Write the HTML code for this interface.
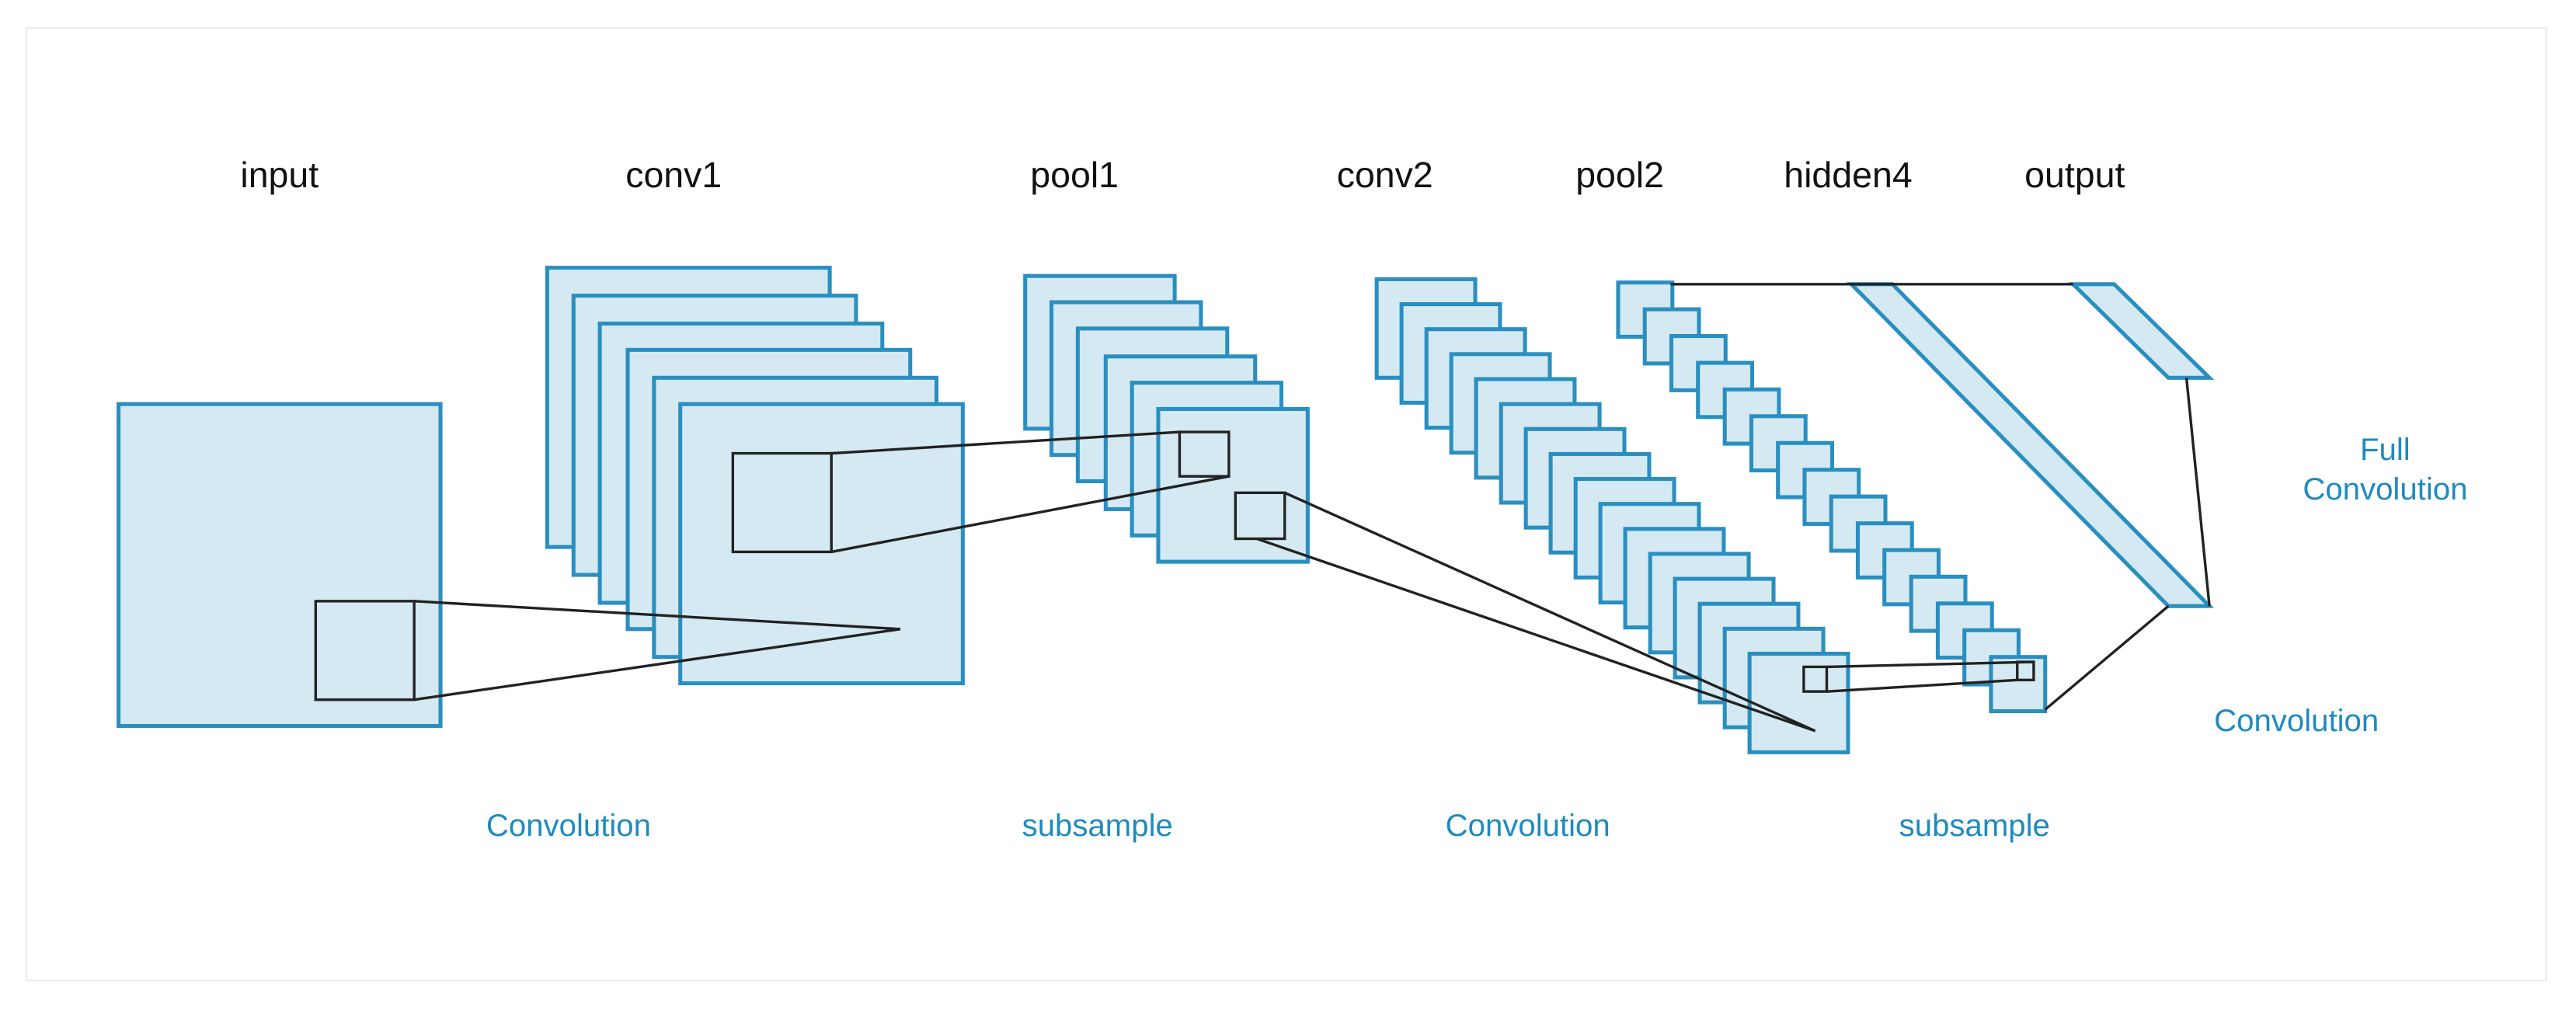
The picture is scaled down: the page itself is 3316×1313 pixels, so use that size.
<!DOCTYPE html>
<html><head><meta charset="utf-8"><style>html,body{margin:0;padding:0;background:#fff}svg{display:block}</style></head>
<body>
<svg width="3316" height="1313" viewBox="0 0 1568 621" xmlns="http://www.w3.org/2000/svg" font-family="'Liberation Sans', sans-serif">
<rect x="0" y="0" width="1568" height="621" fill="#fff"/>
<rect x="16" y="17" width="1534" height="580" fill="#fff" stroke="#ececec" stroke-width="1"/>
<g font-size="22" fill="#111" text-anchor="middle">
<text x="170" y="114">input</text>
<text x="410" y="114">conv1</text>
<text x="654" y="114">pool1</text>
<text x="843" y="114">conv2</text>
<text x="986" y="114">pool2</text>
<text x="1125" y="114">hidden4</text>
<text x="1263" y="114">output</text>
</g>
<g font-size="19" fill="#1f8ac0" text-anchor="middle">
<text x="346" y="509">Convolution</text>
<text x="668" y="509">subsample</text>
<text x="930" y="509">Convolution</text>
<text x="1202" y="509">subsample</text>
<text x="1452" y="280">Full</text>
<text x="1452" y="304">Convolution</text>
<text x="1398" y="445">Convolution</text>
</g>
<g fill="#d4e9f2" stroke="#2a8fc0" stroke-width="2.4">
<rect x="72" y="246" width="196" height="196"/>
<rect x="333" y="163" width="172" height="170"/>
<rect x="349" y="180" width="172" height="170"/>
<rect x="365" y="197" width="172" height="170"/>
<rect x="382" y="213" width="172" height="170"/>
<rect x="398" y="230" width="172" height="170"/>
<rect x="414" y="246" width="172" height="170"/>
<rect x="624" y="168" width="91" height="93"/>
<rect x="640" y="184" width="91" height="93"/>
<rect x="656" y="200" width="91" height="93"/>
<rect x="673" y="217" width="91" height="93"/>
<rect x="689" y="233" width="91" height="93"/>
<rect x="705" y="249" width="91" height="93"/>
</g>
<g fill="#d4e9f2" stroke="#2a8fc0" stroke-width="2.4">
<rect x="838" y="170" width="60" height="60"/>
<rect x="853.1" y="185.2" width="60" height="60"/>
<rect x="868.3" y="200.4" width="60" height="60"/>
<rect x="883.4" y="215.6" width="60" height="60"/>
<rect x="898.5" y="230.8" width="60" height="60"/>
<rect x="913.7" y="246" width="60" height="60"/>
<rect x="928.8" y="261.2" width="60" height="60"/>
<rect x="943.9" y="276.4" width="60" height="60"/>
<rect x="959.1" y="291.6" width="60" height="60"/>
<rect x="974.2" y="306.8" width="60" height="60"/>
<rect x="989.3" y="322" width="60" height="60"/>
<rect x="1004.5" y="337.2" width="60" height="60"/>
<rect x="1019.6" y="352.4" width="60" height="60"/>
<rect x="1034.7" y="367.6" width="60" height="60"/>
<rect x="1049.9" y="382.8" width="60" height="60"/>
<rect x="1065" y="398" width="60" height="60"/>
</g>
<g fill="#d4e9f2" stroke="#2a8fc0" stroke-width="2.4">
<rect x="985" y="172" width="33" height="33"/>
<rect x="1001.2" y="188.3" width="33" height="33"/>
<rect x="1017.4" y="204.6" width="33" height="33"/>
<rect x="1033.6" y="220.9" width="33" height="33"/>
<rect x="1049.9" y="237.1" width="33" height="33"/>
<rect x="1066.1" y="253.4" width="33" height="33"/>
<rect x="1082.3" y="269.7" width="33" height="33"/>
<rect x="1098.5" y="286" width="33" height="33"/>
<rect x="1114.7" y="302.3" width="33" height="33"/>
<rect x="1130.9" y="318.6" width="33" height="33"/>
<rect x="1147.1" y="334.9" width="33" height="33"/>
<rect x="1163.4" y="351.1" width="33" height="33"/>
<rect x="1179.6" y="367.4" width="33" height="33"/>
<rect x="1195.8" y="383.7" width="33" height="33"/>
<rect x="1212" y="400" width="33" height="33"/>
<polygon points="1127,173 1152,173 1345,369 1320,369"/>
<polygon points="1262,173 1287,173 1345,230 1320,230"/>
</g>
<g fill="none" stroke="#222" stroke-width="1.6">
<rect x="192" y="366" width="60" height="60"/>
<line x1="252" y1="366" x2="548" y2="383"/>
<line x1="252" y1="426" x2="548" y2="383"/>
<rect x="446" y="276" width="60" height="60"/>
<line x1="506" y1="276" x2="718" y2="263"/>
<line x1="506" y1="336" x2="748" y2="290"/>
<rect x="718" y="263" width="30" height="27"/>
<rect x="752" y="300" width="30" height="28"/>
<line x1="782" y1="300" x2="1105" y2="445"/>
<line x1="765" y1="328" x2="1105" y2="445"/>
<rect x="1098" y="406" width="14" height="15"/>
<line x1="1112" y1="406" x2="1238" y2="403"/>
<line x1="1112" y1="421" x2="1228" y2="414"/>
<rect x="1228" y="403" width="10" height="11"/>
<line x1="1017" y1="173" x2="1262" y2="173"/>
<line x1="1331" y1="230" x2="1345" y2="369"/>
<line x1="1245" y1="432" x2="1320" y2="369"/>
</g>
</svg>
</body></html>
